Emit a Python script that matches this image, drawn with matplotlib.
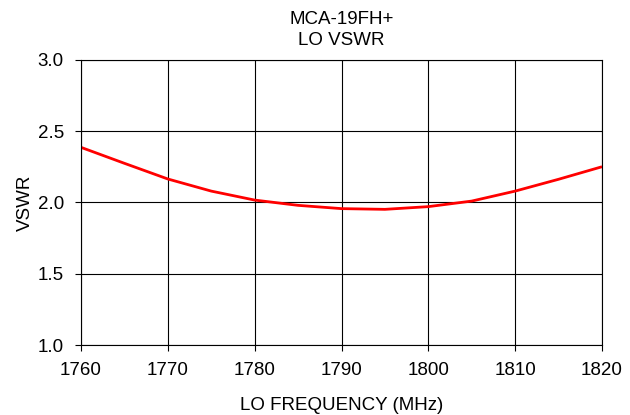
import matplotlib

matplotlib.use("Agg")
import matplotlib.pyplot as plt

plt.rcParams["font.family"] = ["Liberation Sans", "DejaVu Sans"]

# LO VSWR
freq_mhz = [1760, 1765, 1770, 1775, 1780, 1785, 1790, 1795, 1800, 1805, 1810, 1815, 1820]
vswr = [2.387, 2.275, 2.165, 2.08, 2.017, 1.98, 1.957, 1.952, 1.971, 2.01, 2.08, 2.163, 2.251]

x_ticks = [1760, 1770, 1780, 1790, 1800, 1810, 1820]
y_ticks = [1.0, 1.5, 2.0, 2.5, 3.0]

fig = plt.figure(figsize=(6.3, 4.15), dpi=100)
ax = fig.add_axes([81 / 630, 70 / 415, 521 / 630, 285 / 415])

ax.plot(freq_mhz, vswr, color="#ff0000", linewidth=2, solid_capstyle="butt")

ax.set_xlim(1760, 1820)
ax.set_ylim(1.0, 3.0)
ax.set_xticks(x_ticks)
ax.set_yticks(y_ticks)
ax.set_yticklabels([f"{v:.1f}" for v in y_ticks])
ax.grid(True, color="black", linewidth=0.8)
ax.tick_params(direction="out", length=4.3, width=0.8, labelsize=13.5)
ax.tick_params(axis="x", pad=8)
ax.tick_params(axis="y", pad=8)
for s in ax.spines.values():
    s.set_linewidth(0.8)

ax.set_xlabel("LO FREQUENCY (MHz)", fontsize=13.5, labelpad=13)
ax.set_ylabel("VSWR", fontsize=13.5, labelpad=3)
ax.set_title("MCA-19FH+\nLO VSWR", fontsize=13.5, linespacing=1.25, pad=11)

fig.savefig("out.png", dpi=100)
